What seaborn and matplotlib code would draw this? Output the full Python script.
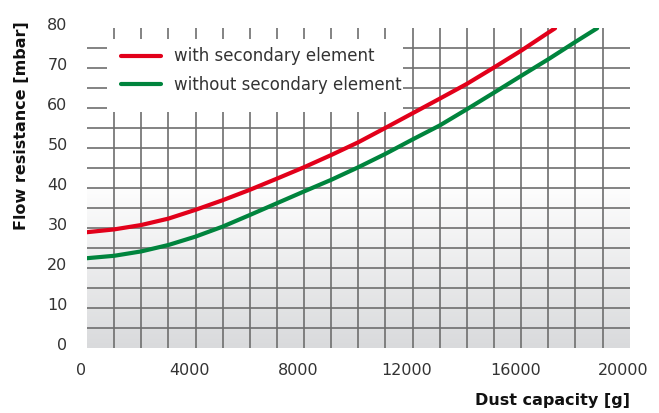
import numpy as np
import pandas as pd
import matplotlib
matplotlib.use("Agg")
import matplotlib.pyplot as plt
from matplotlib.colors import LinearSegmentedColormap
from matplotlib.patches import Rectangle
from matplotlib.transforms import ScaledTranslation
import seaborn as sns

sns.set_theme(style="white")
plt.rcParams["font.family"] = ["DejaVu Sans"]

# dust capacity [g] vs flow resistance [mbar]
x_with = [0, 1000, 2000, 3000, 4000, 5000, 6000, 7000, 8000, 9000,
          10000, 11000, 12000, 13000, 14000, 15000, 16000, 17000, 17250]
y_with = [29.0, 29.7, 30.8, 32.4, 34.6, 37.0, 39.6, 42.4, 45.25, 48.3,
          51.5, 55.1, 58.75, 62.4, 66.1, 70.2, 74.4, 78.9, 80.0]

x_without = [0, 1000, 2000, 3000, 4000, 5000, 6000, 7000, 8000, 9000,
             10000, 11000, 12000, 13000, 14000, 15000, 16000, 17000, 18000, 18800]
y_without = [22.5, 23.1, 24.2, 25.8, 27.9, 30.4, 33.3, 36.25, 39.2, 42.1,
             45.25, 48.6, 52.2, 55.7, 59.75, 63.9, 68.1, 72.25, 76.6, 80.0]

series_names = ["with secondary element", "without secondary element"]
series_colors = ["#e2001a", "#00843d"]

x_ticks = [0, 4000, 8000, 12000, 16000, 20000]
y_ticks = [0, 10, 20, 30, 40, 50, 60, 70, 80]

df = pd.concat([
    pd.DataFrame({"capacity": x_with, "resistance": y_with, "series": series_names[0]}),
    pd.DataFrame({"capacity": x_without, "resistance": y_without, "series": series_names[1]}),
])

fig = plt.figure(figsize=(6.59, 4.13), dpi=100)
ax = fig.add_axes([0.132, 0.157, 0.8235, 0.7745])

# grey gradient in the lower half of the plot
grad = LinearSegmentedColormap.from_list("bg", ["#d9dadc", "#ffffff"])
ax.imshow(np.linspace(0, 1, 256).reshape(-1, 1), cmap=grad, origin="lower",
          extent=(0, 20000, 0, 42), aspect="auto", zorder=0)

for name, color in zip(series_names, series_colors):
    sns.lineplot(data=df[df["series"] == name], x="capacity", y="resistance",
                 color=color, linewidth=3, label=name, ax=ax, zorder=3,
                 sort=False)

ax.set_xlim(0, 20000)
ax.set_ylim(0, 80)

ax.xaxis.remove_overlapping_locs = False
ax.yaxis.remove_overlapping_locs = False
ax.set_xticks(x_ticks)
ax.set_yticks(y_ticks)
ax.set_xticks(np.arange(1000, 20000, 1000), minor=True)
ax.set_yticks(np.arange(5, 80, 5), minor=True)
ax.set_axisbelow(True)
ax.grid(which="major", visible=False)
ax.grid(which="minor", color="#6e6e6e", linewidth=1.2)
ax.tick_params(which="both", length=0)
ax.tick_params(axis="x", pad=11, labelsize=11.5, labelcolor="#333333")
ax.tick_params(axis="y", pad=14, labelsize=11.5, labelcolor="#333333")
for lab in ax.get_xticklabels():
    lab.set_transform(lab.get_transform() + ScaledTranslation(-0.06, 0, fig.dpi_scale_trans))
for lab in ax.get_yticklabels():
    lab.set_transform(lab.get_transform() + ScaledTranslation(0, 0.04, fig.dpi_scale_trans))

for s in ax.spines.values():
    s.set_visible(False)

# white box behind the legend
ax.add_patch(Rectangle((0.0365, 0.739), 0.546, 0.2275, transform=ax.transAxes,
                       facecolor="white", edgecolor="none", zorder=1))

ax.legend(loc="upper left", bbox_to_anchor=(0.063, 0.94), frameon=False,
          fontsize=12, handlelength=2.4, handletextpad=0.75, labelspacing=0.65,
          borderpad=0, borderaxespad=0, labelcolor="#333333")

ax.set_xlabel("Dust capacity [g]", fontsize=11.5, fontweight="bold", color="#111111")
ax.xaxis.set_label_coords(1.0, -0.14)
ax.xaxis.label.set_horizontalalignment("right")
ax.set_ylabel("Flow resistance [mbar]", fontsize=11.5, fontweight="bold", color="#111111")
ax.yaxis.set_label_coords(-0.107, 0.695)

fig.savefig("out.png", dpi=100)
